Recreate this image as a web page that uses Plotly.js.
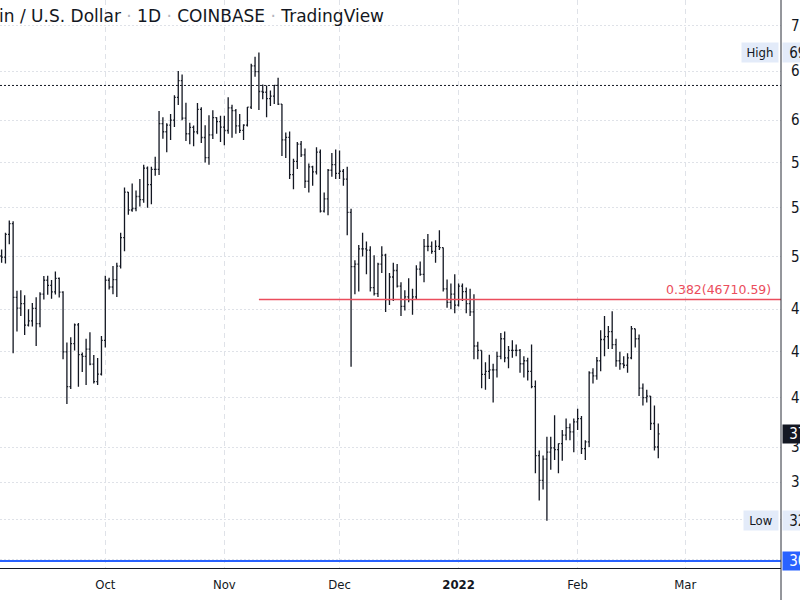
<!DOCTYPE html>
<html>
<head>
<meta charset="utf-8">
<script src="https://cdn.plot.ly/plotly-3.0.1.min.js"></script>
<style>
html,body{margin:0;padding:0;background:#fff;}
#chart{width:800px;height:600px;}
</style>
</head>
<body>
<div id="chart"></div>
<script>
// ---- Data: BTC/USD daily OHLC (Coinbase), 2021-09-01 .. 2022-02-22 ----
const firstDay = '2021-09-01';
const opens = [
  47130,48830,49270,50030,49940,51770,52660,46860,46070,46400,44850,45160,46060,44960,47110,48150,47770,47280,48300,47260,43000,40700,43560,44880,42810,42700,43180,42170,41030,41520,
  43790,48150,47640,48200,49240,51500,55340,53800,53930,54960,54690,57490,56000,57370,57360,61670,60880,61530,62010,64280,66000,62200,60690,61300,60860,63080,60330,58450,60590,62250,61860,
  61320,61000,63230,62940,61450,61010,61530,63300,67550,66950,64880,64800,64150,64400,65500,63600,60100,60350,56900,58100,59700,58700,56300,57600,57150,58950,53700,54750,57290,57800,
  57000,57200,56500,53600,49200,49400,50600,50600,50500,47600,47150,49400,50100,46700,48400,48900,47700,46200,46900,46700,46900,49000,48600,50800,50800,50400,50800,50700,47500,46500,47100,
  46300,47700,47300,46400,45800,43400,43100,41500,41700,41800,41800,42700,43900,42600,43100,43100,43100,42200,42400,41700,40700,36500,35100,36300,36700,36950,36850,37200,37700,38150,37900,
  38500,38700,36900,37300,41600,41400,42400,43850,44050,44400,43500,42400,42200,42100,42600,44600,43900,40600,40000,40100,38400,37000
];
const highs = [
  48950,50400,51050,50550,51900,52920,52860,47360,47400,47030,45990,46460,46880,47250,48480,48490,48170,48820,48360,47330,43640,44000,44970,45000,42950,43900,44350,42790,42590,44100,
  48500,48350,49250,49500,51900,55750,55350,56100,55480,56500,57800,57640,57600,58530,62900,62300,61700,62600,64500,67000,66650,63730,61750,61480,63700,63290,61500,62500,62980,62300,62450,
  62450,64300,63530,63100,62600,61600,63300,67790,68530,69000,65600,65500,64990,65550,66300,63600,60800,60900,58350,59900,60000,59300,57900,57700,59400,59200,55300,57400,58880,59200,
  59100,57400,57600,53900,49700,50900,51900,51200,50800,50100,49500,50800,50200,48700,49500,49400,48000,47400,48300,47500,49300,49600,51400,51800,51200,51300,52100,50700,48200,47900,48600,
  47900,47900,47600,47500,47100,43700,43100,42300,42800,42200,43000,44300,44400,43400,43800,43500,43200,42700,42600,43500,41100,36800,36500,37600,37600,38900,37200,38000,38700,38400,38700,
  39300,38850,37400,41700,41900,42650,44500,45500,44800,45850,43900,43000,42700,42900,44800,44600,44200,40900,40500,40100,39500,38400
];
const lows = [
  46560,48600,48370,49500,49450,50970,42900,44400,45500,44160,44750,44750,43400,44700,46700,47060,46770,47080,46850,42500,39600,40550,43100,40700,41650,40800,42100,40900,40800,41420,
  43300,47450,47100,46900,49060,50400,53400,53650,53700,54100,54430,54000,54300,56800,56850,60200,58950,60100,61350,63500,62000,60000,59700,59500,60650,59800,58000,57800,60180,60700,59900,
  59600,60700,60300,60700,60750,60100,61400,63100,66400,63000,64100,62300,63400,63600,63500,58600,58400,56500,55600,57400,58500,55700,55300,55900,56900,53600,53600,53350,56700,56500,
  56500,55900,51700,42000,47100,47300,50000,48600,47300,47000,46900,48700,45800,46300,46600,47600,45500,45900,46500,45600,46700,48500,48000,50400,50200,49500,50500,47300,46100,46000,45700,
  46200,46600,45700,45500,42500,42500,40600,40500,41200,39700,41300,42500,42300,41900,42600,42700,41600,41300,41100,40600,35500,34000,34600,32933,35700,36250,35500,36200,37400,37400,36700,
  38000,36600,36250,37000,40900,41150,41700,42700,43200,43200,42000,41800,41900,41600,42500,43300,40100,39500,39700,38000,36800,36350
];
const closes = [
  48830,49270,50030,49940,51770,52660,46860,46070,46400,44850,45160,46060,44960,47110,48150,47770,47280,48300,47260,43000,40700,43560,44880,42810,42700,43180,42170,41030,41520,43790,
  48150,47640,48200,49240,51500,55340,53800,53930,54960,54690,57490,56000,57370,57360,61670,60880,61530,62010,64280,66000,62200,60690,61300,60860,63080,60330,58450,60590,62250,61860,61320,
  61000,63230,62940,61450,61010,61530,63300,67550,66950,64880,64800,64150,64400,65500,63600,60100,60350,56900,58100,59700,58700,56300,57600,57150,58950,53700,54750,57290,57800,57000,
  57200,56500,53600,49200,49400,50600,50600,50500,47600,47150,49400,50100,46700,48400,48900,47700,46200,46900,46700,46900,49000,48600,50800,50800,50400,50800,50700,47500,46500,47100,46300,
  47700,47300,46400,45800,43400,43100,41500,41700,41800,41800,42700,43900,42600,43100,43100,43100,42200,42400,41700,40700,36500,35100,36300,36700,36950,36850,37200,37700,38150,37900,38500,
  38700,36900,37300,41600,41400,42400,43850,44050,44400,43500,42400,42200,42100,42600,44600,43900,40600,40000,40100,38400,37000,37780
];

// axis ticks
const monthTicks  = ['2021-09-01','2021-10-01','2021-11-01','2021-12-01','2022-01-01','2022-02-01','2022-03-01'];
const monthLabels = ['Sep','Oct','Nov','Dec','<b>2022</b>','Feb','Mar'];
const priceTicks  = [72000,67000,62000,58000,54000,50000,46000,43000,40000,37000,35000,33000,31000];
const xView = ['2021-09-03 13:55','2022-03-25 23:00'];

// drawing-tool levels
const highLevel = [69000];
const lowLevel = [32933];
const fibRatio = [0.382];
const fibStart = ['2021-11-10'];
const fibEnd = ['2022-06-30'];
const prevHighLevel = [65500];
const blueLevel = [30900];
const lastPrice = [closes[closes.length-1]];

// ---- build ----
const dates = opens.map((_, i) => {
  const d = new Date(firstDay + 'T00:00:00Z');
  d.setUTCDate(d.getUTCDate() + i);
  return d.toISOString().slice(0, 10);
});
const fibLevel = lowLevel[0] + fibRatio[0] * (highLevel[0] - lowLevel[0]);
const fibText = fibRatio[0].toFixed(3) + '(' + fibLevel.toFixed(2) + ')';

const FONT = "'DejaVu Sans Condensed', 'Liberation Sans Narrow', 'DejaVu Sans', sans-serif";
const WIDE = "'DejaVu Sans', Verdana, sans-serif";
const INK = '#131722';
const RED = '#eb4d5c';
const BLUE = '#2962ff';
const TAG = '#e3ebf9';
const L10 = Math.log10;

const sep = ' <span style="color:#b2b5be">·</span> ';
const titleText = 'Bitcoin / U.S. Dollar' + sep + '1D' + sep + 'COINBASE' + sep + 'TradingView';

const trace = {
  type: 'ohlc',
  x: dates, open: opens, high: highs, low: lows, close: closes,
  increasing: {line: {color: INK, width: 1.3}},
  decreasing: {line: {color: INK, width: 1.3}},
  tickwidth: 0.34,
  hoverinfo: 'skip'
};

const plotH = 568;
const layout = {
  width: 800, height: 600,
  margin: {l: 0, r: 19, t: 0, b: 600 - plotH, pad: 0},
  paper_bgcolor: '#ffffff', plot_bgcolor: '#ffffff',
  showlegend: false,
  font: {family: FONT, color: INK, size: 13},
  title: {
    text: titleText, xref: 'container', x: 384/800, xanchor: 'right',
    yref: 'container', y: 1 - 16/600, yanchor: 'middle',
    font: {family: WIDE, size: 17, color: INK}
  },
  xaxis: {
    type: 'date', range: xView, rangeslider: {visible: false},
    tickmode: 'array', tickvals: monthTicks, ticktext: monthLabels,
    showgrid: true, gridcolor: '#dfe2e8', griddash: '5px,4px', gridwidth: 1,
    showline: true, linecolor: INK, linewidth: 1,
    ticks: '', ticklabelstandoff: 4, tickfont: {family: FONT, size: 13, color: INK},
    zeroline: false, fixedrange: true
  },
  yaxis: {
    type: 'log', range: [4.48519, 4.87487], side: 'right',
    tickmode: 'array', tickvals: priceTicks, ticktext: priceTicks.map(v => v.toFixed(2)),
    showgrid: true, gridcolor: '#dfe2e8', griddash: '2px,2px', gridwidth: 1,
    ticks: '', ticklabelstandoff: 9, tickfont: {family: FONT, size: 15, color: INK},
    showline: false, zeroline: false, fixedrange: true
  },
  shapes: [
    {type: 'line', xref: 'paper', x0: 0, x1: 1, yref: 'y', y0: prevHighLevel[0], y1: prevHighLevel[0],
     line: {color: INK, width: 1, dash: '2px,2px'}},
    {type: 'line', xref: 'x', x0: fibStart[0], x1: fibEnd[0], yref: 'y', y0: fibLevel, y1: fibLevel,
     line: {color: RED, width: 1.4}},
    {type: 'line', xref: 'paper', x0: 0, x1: 1, yref: 'y', y0: blueLevel[0], y1: blueLevel[0],
     line: {color: BLUE, width: 2}},
    {type: 'line', xref: 'paper', x0: 1, x1: 1, yref: 'paper', y0: -(600 - plotH)/plotH, y1: 1,
     line: {color: '#2a2e39', width: 1}}
  ],
  annotations: [
    {xref: 'paper', x: 1, xanchor: 'right', xshift: -8, yref: 'y', y: L10(fibLevel), yanchor: 'bottom', yshift: 0,
     text: fibText, showarrow: false, font: {family: WIDE, size: 12.5, color: RED}},
    {xref: 'paper', x: 1, xanchor: 'right', xshift: -2, yref: 'y', y: L10(highLevel[0]), yanchor: 'middle',
     text: 'High', showarrow: false, bgcolor: TAG, borderpad: 2, width: 32, height: 15, font: {family: FONT, size: 13, color: INK}},
    {xref: 'paper', x: 1, xanchor: 'left', xshift: 1, yref: 'y', y: L10(highLevel[0]), yanchor: 'middle', align: 'left',
     text: '&nbsp;' + highLevel[0].toFixed(2), showarrow: false, bgcolor: TAG, borderpad: 2, height: 15, font: {family: FONT, size: 15, color: INK}},
    {xref: 'paper', x: 1, xanchor: 'right', xshift: -2, yref: 'y', y: L10(lowLevel[0]), yanchor: 'middle',
     text: 'Low', showarrow: false, bgcolor: TAG, borderpad: 2, width: 30, height: 15, font: {family: FONT, size: 13, color: INK}},
    {xref: 'paper', x: 1, xanchor: 'left', xshift: 1, yref: 'y', y: L10(lowLevel[0]), yanchor: 'middle', align: 'left',
     text: '&nbsp;' + lowLevel[0].toFixed(2), showarrow: false, bgcolor: TAG, borderpad: 2, height: 15, font: {family: FONT, size: 15, color: INK}},
    {xref: 'paper', x: 1, xanchor: 'left', xshift: 1, yref: 'y', y: L10(lastPrice[0]), yanchor: 'middle', align: 'left',
     text: '&nbsp;' + lastPrice[0].toFixed(2), showarrow: false, bgcolor: INK, borderpad: 2, height: 14, font: {family: FONT, size: 15, color: '#ffffff'}},
    {xref: 'paper', x: 1, xanchor: 'left', xshift: 1, yref: 'y', y: L10(blueLevel[0]), yanchor: 'middle', align: 'left',
     text: '&nbsp;' + blueLevel[0].toFixed(2), showarrow: false, bgcolor: BLUE, borderpad: 2, height: 14, font: {family: FONT, size: 15, color: '#ffffff'}}
  ]
};

Plotly.newPlot('chart', [trace], layout, {staticPlot: true, displayModeBar: false});
</script>
</body>
</html>
